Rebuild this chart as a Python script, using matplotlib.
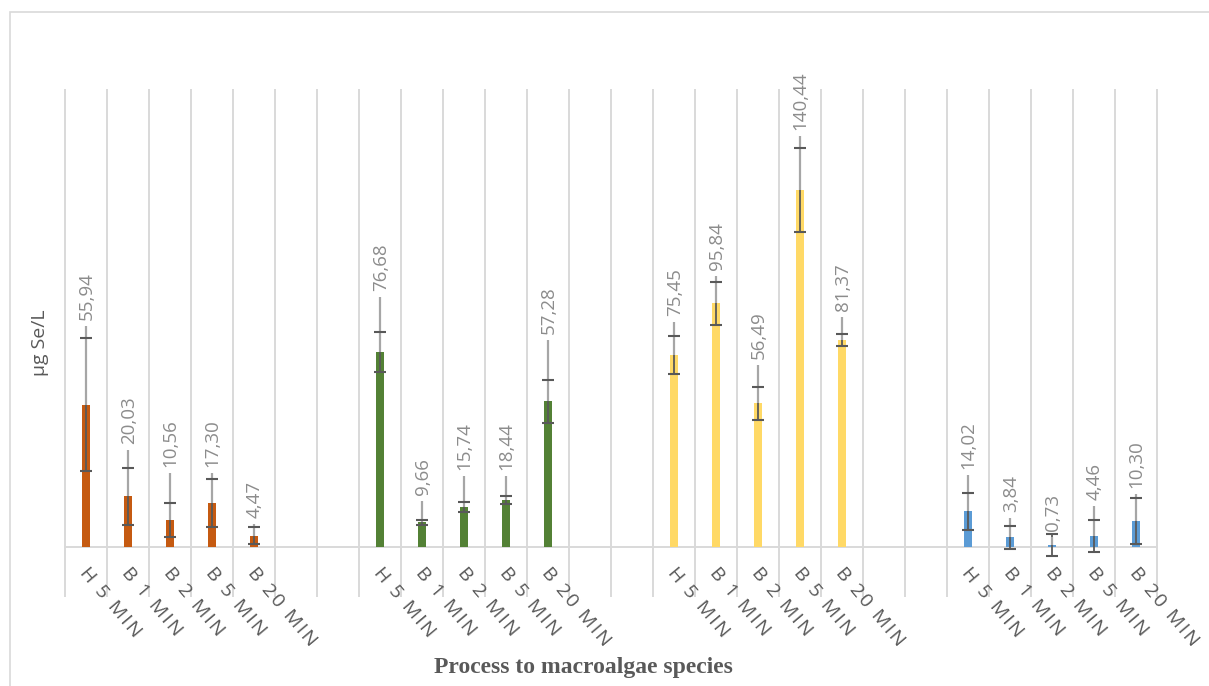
import numpy as np
import matplotlib
matplotlib.use('Agg')
import matplotlib.pyplot as plt
import matplotlib.patches as patches
import matplotlib.transforms as mtransforms

plt.rcParams['font.family'] = ['Open Sans', 'DejaVu Sans']

# data
etiquetas = ['H 5 MIN', 'B 1 MIN', 'B 2 MIN', 'B 5 MIN', 'B 20 MIN']
warna = ['#C55A11', '#538135', '#FFD966', '#5B9BD5']

nilai = [
    [55.94, 20.03, 10.56, 17.30, 4.47],
    [76.68, 9.66, 15.74, 18.44, 57.28],
    [75.45, 95.84, 56.49, 140.44, 81.37],
    [14.02, 3.84, 0.73, 4.46, 10.30],
]
galat = [
    [26.2, 11.2, 6.6, 9.4, 3.4],
    [7.9, 0.9, 2.0, 1.6, 8.5],
    [7.5, 8.5, 6.4, 16.4, 2.4],
    [7.3, 4.6, 4.4, 6.3, 9.1],
]
# jarak label dari ujung error bar (px)
jarak_label = [
    [18, 24, 36, 12, 9],
    [41, 25, 32, 26, 46],
    [20, 12, 28, 18, 23],
    [24, 14, 3, 20, 10],
]

W, H = 1209, 686
fig = plt.figure(figsize=(W / 100, H / 100), dpi=100)
ax_top, ax_bot = 89.3, 547
ax = fig.add_axes([65 / W, 1 - ax_bot / H, 1092 / W, (ax_bot - ax_top) / H])
ymax = 180
px2val = ymax / (ax_bot - ax_top)

n_grup = len(nilai)
n_kat = n_grup * 7 - 2
posisi_semua = []
label_semua = []
for g in range(n_grup):
    x = np.arange(5) + g * 7
    v = np.array(nilai[g])
    e = np.array(galat[g])
    ax.bar(x, v, width=0.19, color=warna[g], zorder=2)
    line, caps, bars = ax.errorbar(x, v, yerr=e, fmt='none', ecolor='#595959',
                                   elinewidth=1.3, capsize=4.3, capthick=1.5,
                                   zorder=3)
    for c in caps:
        c.set_zorder(5)
        c.set_clip_on(False)
    for b in bars:
        b.set_clip_on(False)
    for i in range(5):
        gap = jarak_label[g][i]
        atas = v[i] + e[i] + (gap - 6) * px2val
        if atas > v[i]:
            ax.plot([x[i], x[i]], [v[i], atas], color='#A6A6A6', lw=1.6,
                    zorder=4, solid_capstyle='butt')
        ax.annotate(f'{v[i]:.2f}'.replace('.', ','), xy=(x[i], v[i] + e[i]),
                    xytext=(0.5, gap * 0.72), textcoords='offset points',
                    rotation=90, ha='center', va='bottom', fontsize=13.5,
                    color='#8C8C8C', zorder=6)
    posisi_semua += list(x)
    label_semua += ['\u200a'.join(t) for t in etiquetas]

# garis kisi vertikal, memanjang ke bawah sumbu
batas = np.arange(n_kat + 1) - 0.5
ax.vlines(batas, -50 * px2val, ymax, color='#D9D9D9', lw=1.4, zorder=0.4,
          clip_on=False)

ax.set_xlim(-0.5, n_kat - 0.5)
ax.set_ylim(0, ymax)
ax.set_yticks([])
ax.set_xticks(posisi_semua)
ax.set_xticklabels(label_semua, rotation=-50, ha='left', va='top',
                   rotation_mode='anchor', fontsize=14, color='#595959')
ax.tick_params(axis='x', which='major', length=0, pad=12)
geser = mtransforms.ScaledTranslation(4 / 100, 0, fig.dpi_scale_trans)
for t in ax.get_xticklabels():
    t.set_transform(t.get_transform() + geser)
for s in ['top', 'left', 'right']:
    ax.spines[s].set_visible(False)
ax.spines['bottom'].set_color('#D9D9D9')
ax.spines['bottom'].set_linewidth(1.4)
ax.spines['bottom'].set_zorder(1)

fig.text(40 / W, 1 - 343 / H, 'μg Se/L', rotation=90, ha='center', va='center',
         fontsize=14, color='#595959')
fig.text(583 / W, 1 - 668 / H, 'Process to macroalgae species', ha='center',
         va='center', fontsize=17, fontweight='bold', family='Liberation Serif',
         color='#595959')

fig.patches.append(patches.Rectangle((10 / W, -0.1), 1.2, 1 - 12 / H + 0.1,
                                     transform=fig.transFigure, fill=False,
                                     edgecolor='#D9D9D9', lw=1.2))

fig.savefig('out.png', dpi=100)
